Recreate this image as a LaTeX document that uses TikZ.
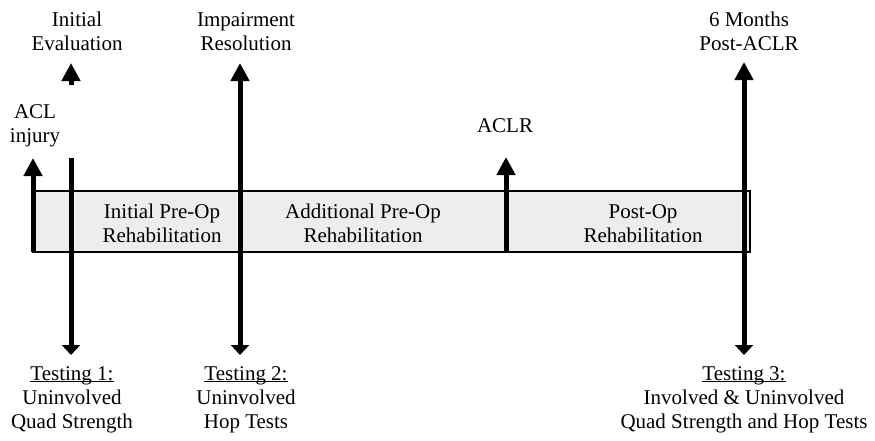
\documentclass[tikz,border=0pt]{standalone}
\usepackage{fontspec}
\setmainfont{Liberation Serif}
\usetikzlibrary{arrows.meta}
\newcommand{\ulx}[1]{\underline{\smash{#1}}}
\begin{document}
\begin{tikzpicture}[x=1pt,y=-1pt,
  lbl/.style={anchor=base,inner sep=0pt,font=\fontsize{21}{24}\selectfont},
  bar/.style={line width=5pt},
  uphead/.style={-{Triangle[width=18pt,length=18pt]}},
  bothhead/.style={{Triangle[width=18pt,length=10pt]}-{Triangle[width=18pt,length=18pt]}},
  downhead/.style={-{Triangle[width=18pt,length=10pt]}},
  phase/.style={draw=black,line width=2pt,fill=black!7}
]
\useasboundingbox (0,0) rectangle (875,440);

% phase box
\draw[phase] (33,191) rectangle (750,252);

% box texts
\node[lbl] (p1) at (162,218) {\begin{tabular}[t]{@{}c@{}}Initial Pre-Op\\Rehabilitation\end{tabular}};
\node[lbl] (p2) at (363,218) {\begin{tabular}[t]{@{}c@{}}Additional Pre-Op\\Rehabilitation\end{tabular}};
\node[lbl] (p3) at (643,218) {\begin{tabular}[t]{@{}c@{}}Post-Op\\Rehabilitation\end{tabular}};

% top labels
\node[lbl] (acl) at (35,118) {\begin{tabular}[t]{@{}c@{}}ACL\\injury\end{tabular}};
\node[lbl] (ie) at (77,26) {\begin{tabular}[t]{@{}c@{}}Initial\\Evaluation\end{tabular}};
\node[lbl] (ir) at (246,26) {\begin{tabular}[t]{@{}c@{}}Impairment\\Resolution\end{tabular}};
\node[lbl] (aclr) at (505,132) {ACLR};
\node[lbl] (six) at (749,26) {\begin{tabular}[t]{@{}c@{}}6 Months\\Post-ACLR\end{tabular}};

% bottom labels
\node[lbl] (t1) at (72,380) {\begin{tabular}[t]{@{}c@{}}\ulx{Testing 1:}\\Uninvolved\\Quad Strength\end{tabular}};
\node[lbl] (t2) at (246,380) {\begin{tabular}[t]{@{}c@{}}\ulx{Testing 2:}\\Uninvolved\\Hop Tests\end{tabular}};
\node[lbl] (t3) at (744,380) {\begin{tabular}[t]{@{}c@{}}\ulx{Testing 3:}\\Involved \& Uninvolved\\Quad Strength and Hop Tests\end{tabular}};

% arrow end points
\coordinate (aclB) at (33,252);
\coordinate (aclT) at (33,158);
\coordinate (ieT1) at (71,85);
\coordinate (ieT2) at (71,63);
\coordinate (ieS) at (71,158);
\coordinate (ieB) at (71,355);
\coordinate (irB) at (240,355);
\coordinate (irT) at (240,63);
\coordinate (aclrB) at (506,252);
\coordinate (aclrT) at (506,157);
\coordinate (sixB) at (744,355);
\coordinate (sixT) at (744,62);

% arrows
\draw[bar,uphead] (aclB) -- (aclT);
\draw[bar,uphead] (ieT1) -- (ieT2);
\draw[bar,downhead] (ieS) -- (ieB);
\draw[bar,bothhead] (irB) -- (irT);
\draw[bar,uphead] (aclrB) -- (aclrT);
\draw[bar,bothhead] (sixB) -- (sixT);
\end{tikzpicture}
\end{document}
